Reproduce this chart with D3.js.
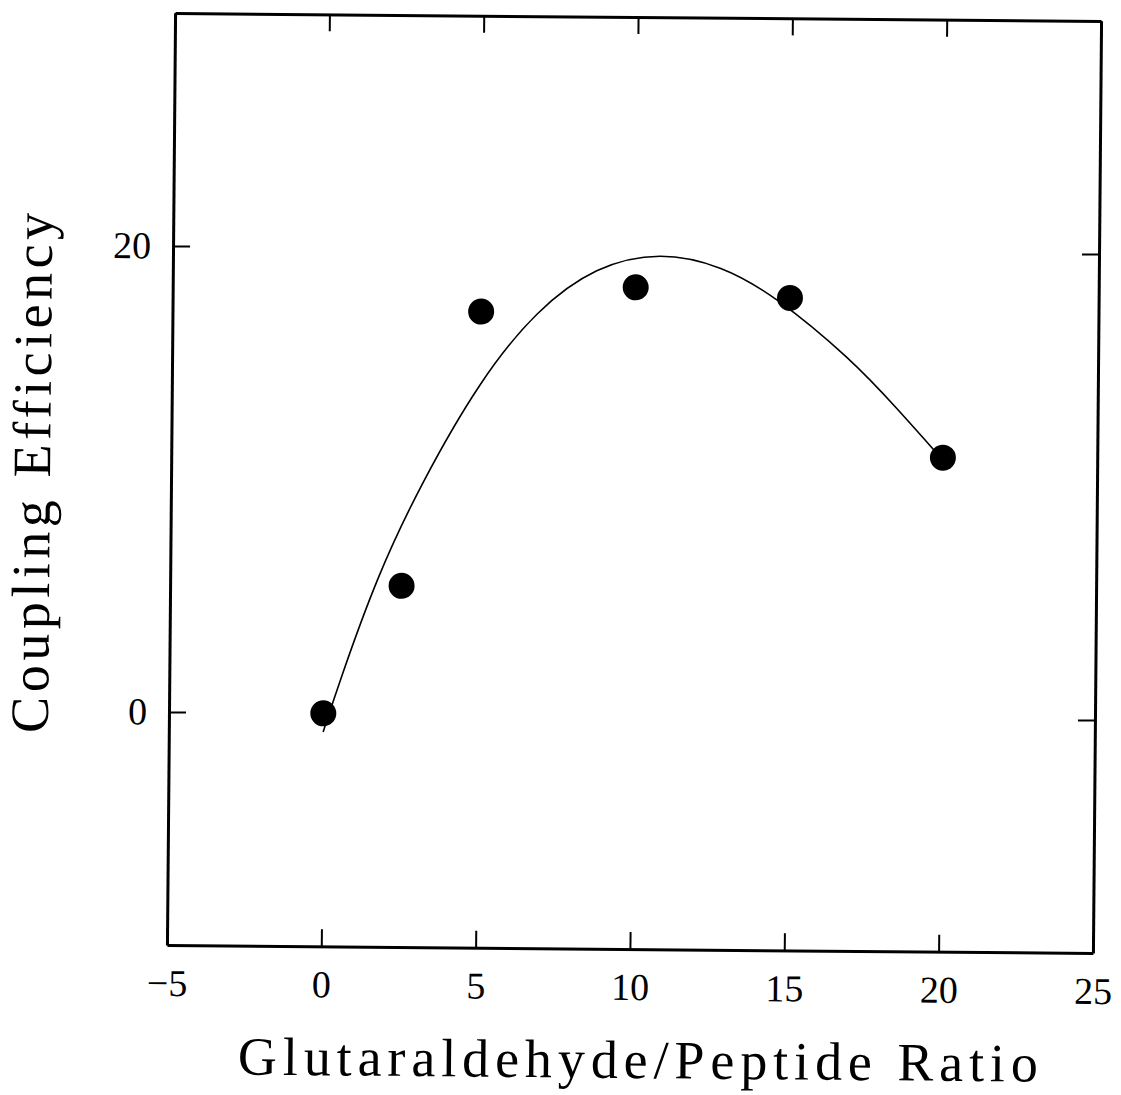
<!DOCTYPE html>
<html>
<head>
<meta charset="utf-8">
<script src="https://cdn.jsdelivr.net/npm/d3@7"></script>
<style>
  body { margin: 0; background: #fff; }
  svg { display: block; }
</style>
</head>
<body>
<svg id="chart"></svg>
<script>
// measured points
var ratio = [0, 2.5, 5, 10, 15, 20]
var efficiency = [0, 5.5, 17.3, 18.4, 18.0, 11.2]

// fitted curve (control points for a smooth basis curve)
var fitX = [0, 0.5, 1.7, 3.1, 5, 6.8, 8.7, 10.8, 12.8, 14.5, 17, 18.5, 20]
var fitY = [-0.8, 1.3, 5.9, 9.9, 14.4, 17.4, 19.3, 19.95, 19.35, 18.1, 15.4, 13.3, 11.1]

var xTicks = [-5, 0, 5, 10, 15, 20, 25]
var yTicks = [0, 20]

var dimensions = {
    width: 1121,
    height: 1095,
    margin: { left: 171, top: 17, right: 24, bottom: 146 }
}
var plotW = dimensions.width - dimensions.margin.left - dimensions.margin.right
var plotH = dimensions.height - dimensions.margin.top - dimensions.margin.bottom

var svg = d3.select("#chart")
            .attr("width", dimensions.width)
            .attr("height", dimensions.height)

// the scanned figure is slightly tilted
var cx = dimensions.margin.left + plotW / 2
var cy = dimensions.margin.top + plotH / 2
var root = svg.append("g")
              .attr("transform", "rotate(0.5," + cx + "," + cy + ")")

var g = root.append("g")
            .attr("transform", "translate(" + dimensions.margin.left + "," + dimensions.margin.top + ")")

var xScale = d3.scaleLinear()
               .domain([-5, 25])
               .range([0, plotW])

var yScale = d3.scaleLinear()
               .domain([-10, 30])
               .range([plotH, 0])

var font = "'Liberation Serif', 'DejaVu Serif', serif"

// bottom axis with labels
var bottom = g.append("g")
              .attr("transform", "translate(0," + plotH + ")")
              .call(d3.axisBottom(xScale).tickValues(xTicks).tickSizeInner(-17).tickSizeOuter(0).tickPadding(24))
bottom.selectAll("text")
      .style("font-family", font)
      .style("font-size", "38px")
      .attr("fill", "#000")

// top axis, ticks only
g.append("g")
 .call(d3.axisTop(xScale).tickValues(xTicks).tickSizeInner(-17).tickSizeOuter(0).tickFormat(""))

// left axis with labels
var left = g.append("g")
            .call(d3.axisLeft(yScale).tickValues(yTicks).tickSizeInner(-17).tickSizeOuter(0).tickPadding(22))
left.selectAll("text")
    .style("font-family", font)
    .style("font-size", "38px")
    .attr("fill", "#000")

// right axis, ticks only
g.append("g")
 .attr("transform", "translate(" + plotW + ",0)")
 .call(d3.axisRight(yScale).tickValues(yTicks).tickSizeInner(-17).tickSizeOuter(0).tickFormat(""))

g.selectAll(".domain").attr("stroke", "#000").attr("stroke-width", 3)
g.selectAll(".tick line").attr("stroke", "#000").attr("stroke-width", 2)

// fitted curve
var fitData = fitX.map((x, i) => ({ x: x, y: fitY[i] }))
var line = d3.line()
             .x(d => xScale(d.x))
             .y(d => yScale(d.y))
             .curve(d3.curveBasis)

g.append("path")
 .datum(fitData)
 .attr("d", line)
 .attr("fill", "none")
 .attr("stroke", "#000")
 .attr("stroke-width", 1.6)

// data points
g.append("g")
 .selectAll("circle")
 .data(ratio)
 .enter()
 .append("circle")
 .attr("cx", d => xScale(d))
 .attr("cy", (d, i) => yScale(efficiency[i]))
 .attr("r", 13)
 .attr("fill", "#000")

// axis titles
g.append("text")
 .attr("x", plotW / 2 + 9)
 .attr("y", plotH + 129)
 .attr("text-anchor", "middle")
 .attr("textLength", 800)
 .attr("lengthAdjust", "spacing")
 .style("font-family", font)
 .style("font-size", "54px")
 .text("Glutaraldehyde/Peptide Ratio")

g.append("text")
 .attr("transform", "translate(" + (-121) + "," + (plotH / 2 - 5) + ") rotate(-90)")
 .attr("text-anchor", "middle")
 .attr("textLength", 520)
 .attr("lengthAdjust", "spacing")
 .style("font-family", font)
 .style("font-size", "54px")
 .text("Coupling Efficiency")
</script>
</body>
</html>
